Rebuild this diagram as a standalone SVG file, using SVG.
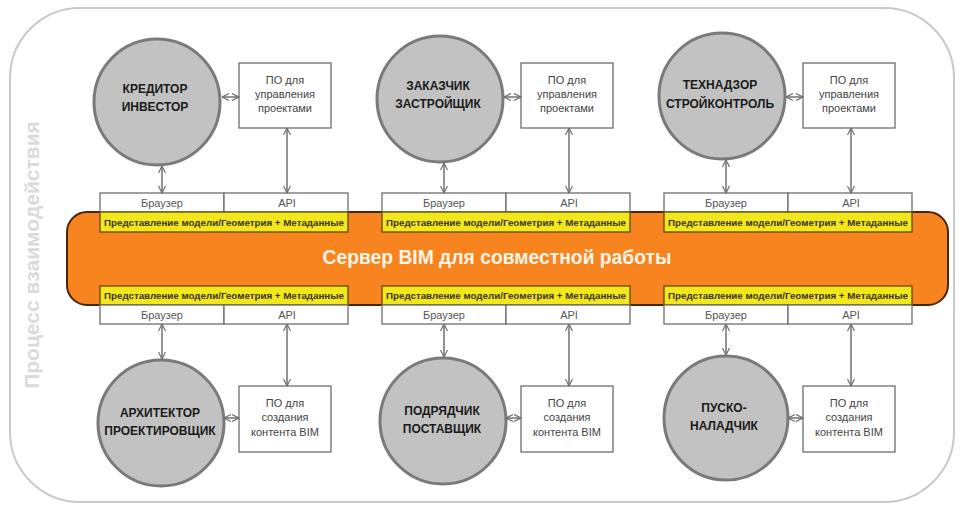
<svg xmlns="http://www.w3.org/2000/svg" width="966" height="512" viewBox="0 0 966 512">
<defs>
<marker id="ah" viewBox="0 0 8 8" refX="7.5" refY="4" markerWidth="8" markerHeight="8" markerUnits="userSpaceOnUse" orient="auto-start-reverse">
<path d="M0.5,0.5 L7.5,4 L0.5,7.5" fill="none" stroke="#707070" stroke-width="1.2"/>
</marker>
<style>
.outer{fill:#fff;stroke:#c9c9c9;stroke-width:2}
.side{font-family:"Liberation Sans",Arial,sans-serif;font-size:21px;font-weight:bold;fill:#dadada}
.server{fill:#f7841f;stroke:#4a250a;stroke-width:2}
.srvt{font-family:"Liberation Sans",Arial,sans-serif;font-size:19.3px;font-weight:bold;fill:#fff4e6}
.circ{fill:#c2c2c2;stroke:#7a7a7a;stroke-width:3}
.ct{font-family:"Liberation Sans",Arial,sans-serif;font-size:12px;font-weight:bold;fill:#1a1a1a;text-anchor:middle}
.box{fill:#fff;stroke:#6e6e6e;stroke-width:1.3}
.bt{font-family:"Liberation Sans",Arial,sans-serif;font-size:11px;fill:#444;text-anchor:middle}
.strip{fill:#fff;stroke:#6e6e6e;stroke-width:1.3}
.st{font-family:"Liberation Sans",Arial,sans-serif;font-size:11px;fill:#555;text-anchor:middle}
.yel{fill:#f2e71a;stroke:#5c4a10;stroke-width:1.3}
.yt{font-family:"Liberation Sans",Arial,sans-serif;font-size:9px;font-weight:bold;fill:#3a3320;text-anchor:middle}
.con line{stroke:#707070;stroke-width:1.5;marker-start:url(#ah);marker-end:url(#ah)}
</style>
</defs>
<rect width="966" height="512" fill="#fff"/>
<rect class="outer" x="10" y="8" width="944" height="494" rx="70" ry="70"/>
<text class="side" transform="translate(39,255) rotate(-90)" text-anchor="middle">Процесс взаимодействия</text>

<g id="server">
<rect class="server" x="67" y="212" width="881" height="93" rx="20" ry="20"/>
<text class="srvt" x="497" y="264" text-anchor="middle">Сервер BIM для совместной работы</text>
</g>

<g id="iface-top-1">
<rect class="strip" x="100" y="193" width="124" height="19"/><rect class="strip" x="224" y="193" width="124" height="19"/>
<text class="st" x="162" y="207">Браузер</text><text class="st" x="287" y="207">API</text>
<rect class="yel" x="100" y="212" width="248" height="20"/>
<text class="yt" x="224" y="225.5" textLength="240" lengthAdjust="spacingAndGlyphs">Представление модели/Геометрия + Метаданные</text>
</g>
<g id="iface-top-2">
<rect class="strip" x="382" y="193" width="124" height="19"/><rect class="strip" x="506" y="193" width="124" height="19"/>
<text class="st" x="444" y="207">Браузер</text><text class="st" x="569" y="207">API</text>
<rect class="yel" x="382" y="212" width="248" height="20"/>
<text class="yt" x="506" y="225.5" textLength="240" lengthAdjust="spacingAndGlyphs">Представление модели/Геометрия + Метаданные</text>
</g>
<g id="iface-top-3">
<rect class="strip" x="664" y="193" width="124" height="19"/><rect class="strip" x="788" y="193" width="124" height="19"/>
<text class="st" x="726" y="207">Браузер</text><text class="st" x="851" y="207">API</text>
<rect class="yel" x="664" y="212" width="248" height="20"/>
<text class="yt" x="788" y="225.5" textLength="240" lengthAdjust="spacingAndGlyphs">Представление модели/Геометрия + Метаданные</text>
</g>
<g id="iface-bot-1">
<rect class="yel" x="100" y="286" width="248" height="19"/>
<text class="yt" x="224" y="299" textLength="240" lengthAdjust="spacingAndGlyphs">Представление модели/Геометрия + Метаданные</text>
<rect class="strip" x="100" y="305" width="124" height="19"/><rect class="strip" x="224" y="305" width="124" height="19"/>
<text class="st" x="162" y="319">Браузер</text><text class="st" x="287" y="319">API</text>
</g>
<g id="iface-bot-2">
<rect class="yel" x="382" y="286" width="248" height="19"/>
<text class="yt" x="506" y="299" textLength="240" lengthAdjust="spacingAndGlyphs">Представление модели/Геометрия + Метаданные</text>
<rect class="strip" x="382" y="305" width="124" height="19"/><rect class="strip" x="506" y="305" width="124" height="19"/>
<text class="st" x="444" y="319">Браузер</text><text class="st" x="569" y="319">API</text>
</g>
<g id="iface-bot-3">
<rect class="yel" x="664" y="286" width="248" height="19"/>
<text class="yt" x="788" y="299" textLength="240" lengthAdjust="spacingAndGlyphs">Представление модели/Геометрия + Метаданные</text>
<rect class="strip" x="664" y="305" width="124" height="19"/><rect class="strip" x="788" y="305" width="124" height="19"/>
<text class="st" x="726" y="319">Браузер</text><text class="st" x="851" y="319">API</text>
</g>

<g id="creditor"><circle class="circ" cx="157" cy="102" r="63"/><text class="ct" x="155" y="93">КРЕДИТОР</text><text class="ct" x="155" y="111">ИНВЕСТОР</text></g>
<g id="customer"><circle class="circ" cx="440" cy="99" r="63"/><text class="ct" x="438" y="90">ЗАКАЗЧИК</text><text class="ct" x="438" y="108">ЗАСТРОЙЩИК</text></g>
<g id="supervision"><circle class="circ" cx="722" cy="96" r="63"/><text class="ct" x="720" y="89">ТЕХНАДЗОР</text><text class="ct" x="720" y="108">СТРОЙКОНТРОЛЬ</text></g>
<g id="architect"><circle class="circ" cx="161" cy="423" r="63"/><text class="ct" x="160" y="417">АРХИТЕКТОР</text><text class="ct" x="160" y="435">ПРОЕКТИРОВЩИК</text></g>
<g id="contractor"><circle class="circ" cx="443" cy="421" r="63"/><text class="ct" x="442" y="415">ПОДРЯДЧИК</text><text class="ct" x="442" y="433">ПОСТАВЩИК</text></g>
<g id="commissioning"><circle class="circ" cx="726" cy="418" r="62"/><text class="ct" x="724" y="412">ПУСКО-</text><text class="ct" x="724" y="430">НАЛАДЧИК</text></g>

<g id="pm-1"><rect class="box" x="239" y="63" width="92" height="65"/><text class="bt" x="285" y="84">ПО для</text><text class="bt" x="285" y="98">управления</text><text class="bt" x="285" y="112">проектами</text></g>
<g id="pm-2"><rect class="box" x="521" y="63" width="92" height="65"/><text class="bt" x="567" y="84">ПО для</text><text class="bt" x="567" y="98">управления</text><text class="bt" x="567" y="112">проектами</text></g>
<g id="pm-3"><rect class="box" x="803" y="63" width="92" height="65"/><text class="bt" x="849" y="84">ПО для</text><text class="bt" x="849" y="98">управления</text><text class="bt" x="849" y="112">проектами</text></g>
<g id="bim-1"><rect class="box" x="239" y="386" width="92" height="66"/><text class="bt" x="285" y="407">ПО для</text><text class="bt" x="285" y="421">создания</text><text class="bt" x="285" y="436">контента BIM</text></g>
<g id="bim-2"><rect class="box" x="521" y="386" width="92" height="66"/><text class="bt" x="567" y="407">ПО для</text><text class="bt" x="567" y="421">создания</text><text class="bt" x="567" y="436">контента BIM</text></g>
<g id="bim-3"><rect class="box" x="803" y="386" width="92" height="66"/><text class="bt" x="849" y="407">ПО для</text><text class="bt" x="849" y="421">создания</text><text class="bt" x="849" y="436">контента BIM</text></g>

<g id="connectors" class="con">
<line x1="222" y1="97" x2="239" y2="97"/>
<line x1="504" y1="97" x2="521" y2="97"/>
<line x1="786" y1="97" x2="803" y2="97"/>
<line x1="162" y1="166" x2="162" y2="193"/>
<line x1="444" y1="163" x2="444" y2="193"/>
<line x1="726" y1="160" x2="726" y2="193"/>
<line x1="287" y1="128" x2="287" y2="193"/>
<line x1="569" y1="128" x2="569" y2="193"/>
<line x1="851" y1="128" x2="851" y2="193"/>
<line x1="162" y1="324" x2="162" y2="359"/>
<line x1="444" y1="324" x2="444" y2="357"/>
<line x1="726" y1="324" x2="726" y2="355"/>
<line x1="287" y1="324" x2="287" y2="386"/>
<line x1="569" y1="324" x2="569" y2="386"/>
<line x1="851" y1="324" x2="851" y2="386"/>
<line x1="224" y1="418" x2="239" y2="418"/>
<line x1="506" y1="418" x2="521" y2="418"/>
<line x1="788" y1="418" x2="803" y2="418"/>
</g>
</svg>
